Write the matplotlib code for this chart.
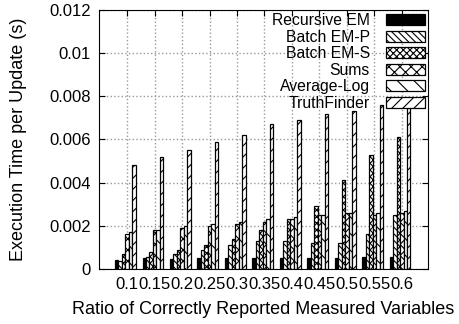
import numpy as np
import matplotlib
matplotlib.use("Agg")
import matplotlib.pyplot as plt

plt.rcParams["font.family"] = ["Liberation Sans", "DejaVu Sans"]
plt.rcParams["hatch.linewidth"] = 0.8

ratios = ["0.1", "0.15", "0.2", "0.25", "0.3", "0.35", "0.4", "0.45", "0.5", "0.55", "0.6"]
series = ["Recursive EM", "Batch EM-P", "Batch EM-S", "Sums", "Average-Log", "TruthFinder"]

recursive_em = [0.00043, 0.00049, 0.00048, 0.00049, 0.0005, 0.0005, 0.0005, 0.0005, 0.00052, 0.00055, 0.00055]
batch_em_p = [0.00035, 0.00054, 0.0007, 0.0009, 0.0011, 0.0013, 0.0013, 0.0012, 0.0012, 0.0016, 0.0025]
batch_em_s = [0.0007, 0.0008, 0.0009, 0.0011, 0.0014, 0.0018, 0.0023, 0.0029, 0.0041, 0.0053, 0.0061]
sums = [0.0016, 0.0018, 0.0019, 0.002, 0.0021, 0.0022, 0.0023, 0.0025, 0.0026, 0.0025, 0.0026]
average_log = [0.0017, 0.0018, 0.002, 0.0021, 0.0022, 0.0023, 0.0024, 0.0025, 0.0026, 0.0026, 0.0027]
truthfinder = [0.0048, 0.0052, 0.0055, 0.0059, 0.0062, 0.0067, 0.0069, 0.0072, 0.0073, 0.0076, 0.0077]

values = [recursive_em, batch_em_p, batch_em_s, sums, average_log, truthfinder]
hatches = ["", "\\\\\\\\\\", "xxxxx", "xxx", "\\\\", "///"]
faces = ["black", "white", "white", "white", "white", "white"]

fig = plt.figure(figsize=(4.59, 3.24), dpi=100)
ax = fig.add_axes([0.2157, 0.1698, 0.7168, 0.7994])

x = np.arange(len(ratios))
w = 0.125
for j, (name, vals) in enumerate(zip(series, values)):
    ax.bar(x - 0.375 + w * j, vals, width=w, color=faces[j], edgecolor="black",
           hatch=hatches[j], linewidth=0.9, label=name, zorder=3)

ax.set_xlim(-1.02, 10.95)
ax.set_ylim(0, 0.012)
ax.set_xticks(x)
ax.set_xticklabels(ratios)
ax.set_yticks([0, 0.002, 0.004, 0.006, 0.008, 0.01, 0.012])
ax.set_yticklabels(["0", "0.002", "0.004", "0.006", "0.008", "0.01", "0.012"])
ax.tick_params(direction="in", top=True, right=True, labelsize=12, length=4, pad=6)
ax.grid(True, color="#999999", linestyle=":", linewidth=1.0, zorder=0)
ax.set_axisbelow(True)
ax.set_xlabel("Ratio of Correctly Reported Measured Variables", fontsize=13, labelpad=6)
ax.set_ylabel("Execution Time per Update (s)", fontsize=13, labelpad=16)

leg = ax.legend(loc="upper right", frameon=False, markerfirst=False, fontsize=11.3,
                handlelength=2.5, handleheight=0.7, labelspacing=0.1,
                borderaxespad=0.0, borderpad=0.2, handletextpad=1.0)

fig.savefig("out.png", dpi=100)
